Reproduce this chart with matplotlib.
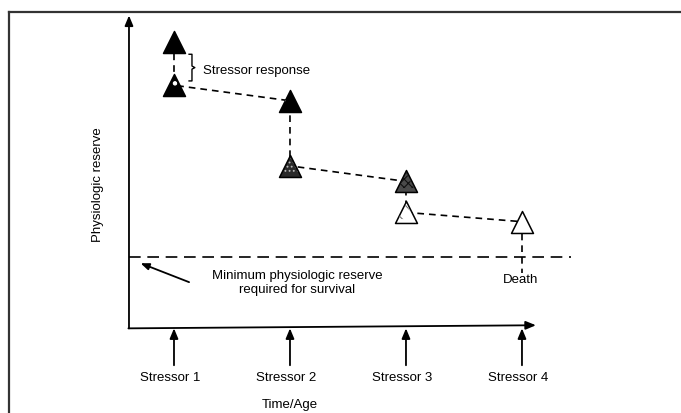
import matplotlib.pyplot as plt
from matplotlib.lines import Line2D

# stressor positions on the time axis
stressor_x = [1, 2, 3, 4]
stressor_labels = ["Stressor 1", "Stressor 2", "Stressor 3", "Stressor 4"]

# reserve before/after each stressor (reading order along the path)
path_x = [1, 1, 2, 2, 3, 3, 4]
path_y = [92, 78, 73, 52, 47, 37, 34]
face = ["black", "black", "black", "#2a2a2a", "#4a4a4a", "white", "white"]
hatch = [None, ".", ".", "....", "xxxx", "\\\\", None]
hatch_col = [None, "white", "white", "#bbbbbb", "#111111", "#777777", None]

min_reserve = 22.5
death_y = 17.5

plt.rcParams["font.family"] = ["Liberation Sans", "DejaVu Sans"]
plt.rcParams["hatch.linewidth"] = 0.8

fig = plt.figure(figsize=(6.81, 4.13), dpi=100)
ax = fig.add_axes([0, 0, 1, 1])
ax.set_xlim(-0.5, 5.371)
ax.set_ylim(-27.7, 105.5)
ax.axis("off")

# frame lines of the cropped picture (top and left)
fig.add_artist(Line2D([9 / 681, 1], [1 - 12 / 413] * 2, color="#333333", lw=1.6))
fig.add_artist(Line2D([9 / 681] * 2, [0, 1 - 12 / 413], color="#333333", lw=1.6))

x0 = 0.612
arrow = dict(arrowstyle="-|>,head_length=0.6,head_width=0.25", color="black", lw=1.3,
             shrinkA=0, shrinkB=0)
ax.annotate("", xy=(x0, 100.5), xytext=(x0, -0.4), arrowprops=arrow)
ax.annotate("", xy=(4.12, 0.6), xytext=(x0 - 0.005, -0.4), arrowprops=arrow)

for sx, lab in zip(stressor_x, stressor_labels):
    ax.annotate("", xy=(sx, -0.4), xytext=(sx, -12.3), arrowprops=arrow)
    ax.text(sx - 0.03, -16.5, lab, ha="center", va="center", fontsize=9.5)

ax.text(2, -25.2, "Time/Age", ha="center", va="center", fontsize=9.5)
ax.text(0.345, 46, "Physiologic reserve", rotation=90, ha="center", va="center",
        fontsize=9.5)

# minimum reserve line
ax.plot([x0, 4.42], [min_reserve, min_reserve], color="black", lw=1.2,
        dashes=(7, 4))
ax.annotate("", xy=(x0 + 0.1, 20.6), xytext=(1.13, 14.5),
            arrowprops=dict(arrowstyle="-|>,head_length=0.5,head_width=0.2",
                            color="black", lw=1.3, shrinkA=0, shrinkB=0))
ax.text(2.06, 14.2, "Minimum physiologic reserve\nrequired for survival",
        ha="center", va="center", fontsize=9.5, linespacing=1.25)

# trajectory
ax.plot(path_x, path_y, color="black", lw=1.2, dashes=(4, 3), zorder=2)
ax.plot([path_x[-1], path_x[-1]], [path_y[-1], death_y], color="black", lw=1.2,
        dashes=(4, 3), zorder=2)
ax.text(3.99, 15.2, "Death", ha="center", va="center", fontsize=9.5)

for x, y, fc, h, hc in zip(path_x, path_y, face, hatch, hatch_col):
    ax.scatter([x], [y], marker="^", s=250, facecolor=fc, edgecolor="black",
               linewidth=1.1, zorder=3)
    if h:
        ax.scatter([x], [y + 0.4], marker="^", s=130, facecolor="none",
                   edgecolor=hc, linewidth=0, hatch=h, zorder=4)

# stressor response bracket
bx = 1.155
by_top, by_bot = 88, 79.4
by_mid = (by_top + by_bot) / 2
ax.plot([bx - 0.025, bx, bx, bx + 0.025, bx, bx, bx - 0.025],
        [by_top, by_top, by_mid + 0.5, by_mid, by_mid - 0.5, by_bot, by_bot],
        color="black", lw=1.0)
ax.text(1.25, 82.6, "Stressor response", ha="left", va="center", fontsize=9.5)

fig.savefig("out.png", dpi=100)
